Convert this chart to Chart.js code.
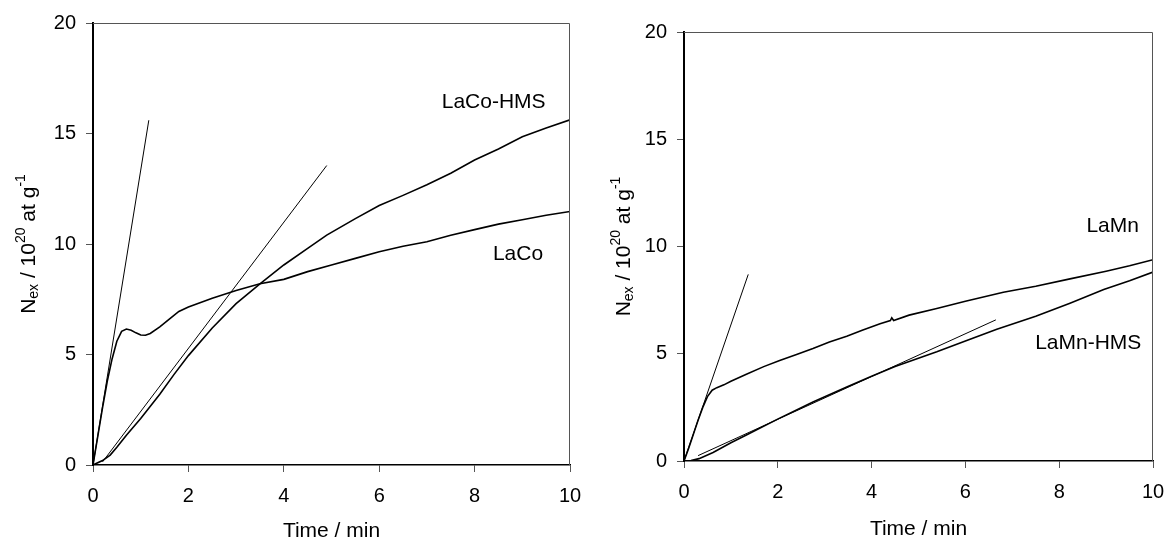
<!DOCTYPE html>
<html>
<head>
<meta charset="utf-8">
<title>N_ex vs Time</title>
<script src="https://cdn.jsdelivr.net/npm/chart.js@4.4.0/dist/chart.umd.min.js"></script>
<style>
  html, body { margin: 0; padding: 0; background: #fff; }
  #wrap { position: relative; width: 1168px; height: 545px; }
  canvas { position: absolute; top: 0; }
  #graficoCo { left: 0; }
  #graficoMn { left: 600px; }
</style>
</head>
<body>
<div id="wrap">
  <canvas id="graficoCo" width="600" height="545"></canvas>
  <canvas id="graficoMn" width="568" height="545"></canvas>
</div>
<script>
// ===================== DADOS =====================
// Time / min  ->  N_ex / 10^20 at g^-1

// LaCo (with bump)
const laCoT = [0, 0.1, 0.2, 0.3, 0.4, 0.5, 0.6, 0.7, 0.8, 0.9, 1.0, 1.1, 1.2, 1.4, 1.6, 1.8, 2.0, 2.5, 3.0, 3.5, 4.0, 4.5, 5.0, 5.5, 6.0, 6.5, 7.0, 7.5, 8.0, 8.5, 9.0, 9.5, 10];
const laCoN = [0, 1.3, 2.6, 3.8, 4.8, 5.6, 6.05, 6.15, 6.1, 5.98, 5.88, 5.87, 5.95, 6.25, 6.6, 6.95, 7.15, 7.55, 7.9, 8.2, 8.4, 8.75, 9.05, 9.35, 9.65, 9.9, 10.1, 10.4, 10.65, 10.9, 11.1, 11.3, 11.47];

// LaCo-HMS
const laCoHmsT = [0, 0.2, 0.36, 0.5, 0.7, 1.0, 1.4, 1.7, 2.0, 2.5, 3.0, 3.5, 4.0, 4.5, 4.9, 5.5, 6.0, 6.5, 7.0, 7.5, 8.0, 8.5, 9.0, 9.5, 10];
const laCoHmsN = [0, 0.2, 0.45, 0.8, 1.35, 2.1, 3.2, 4.1, 4.95, 6.2, 7.3, 8.2, 9.05, 9.8, 10.4, 11.15, 11.74, 12.2, 12.68, 13.2, 13.8, 14.3, 14.85, 15.25, 15.62];

// initial slope lines (left)
const laCoTanT = [0, 1.17];
const laCoTanN = [0, 15.6];
const laCoHmsTanT = [0.2, 4.9];
const laCoHmsTanN = [0.14, 13.55];

// LaMn
const laMnT = [0, 0.1, 0.2, 0.3, 0.4, 0.5, 0.6, 0.7, 0.85, 1.0, 1.33, 1.7, 2.04, 2.4, 2.75, 3.1, 3.47, 3.8, 4.18, 4.4, 4.43, 4.47, 4.8, 5.39, 6.0, 6.81, 7.5, 8.23, 9.0, 9.5, 10];
const laMnN = [0, 0.6, 1.25, 1.9, 2.5, 3.0, 3.3, 3.42, 3.55, 3.72, 4.04, 4.4, 4.69, 4.97, 5.25, 5.55, 5.82, 6.1, 6.4, 6.55, 6.68, 6.55, 6.8, 7.11, 7.45, 7.87, 8.15, 8.49, 8.85, 9.1, 9.38];

// LaMn-HMS
const laMnHmsT = [0, 0.15, 0.32, 0.62, 1.0, 1.33, 2.04, 2.75, 3.47, 4.0, 4.5, 5.39, 6.0, 6.67, 7.5, 8.23, 8.95, 9.5, 10];
const laMnHmsN = [0, 0.02, 0.11, 0.4, 0.85, 1.21, 2.0, 2.75, 3.45, 3.95, 4.4, 5.09, 5.6, 6.14, 6.75, 7.36, 8.0, 8.4, 8.81];

// initial slope lines (right)
const laMnTanT = [0, 1.37];
const laMnTanN = [0, 8.7];
const laMnHmsTanT = [0.3, 6.65];
const laMnHmsTanN = [0.25, 6.58];

// axis ticks
const tempoTicks = [0, 2, 4, 6, 8, 10];
const nexTicks = [0, 5, 10, 15, 20];

// ===================== UTILITÁRIOS =====================
const FONTE = '"Liberation Sans", Arial, Helvetica, sans-serif';

function pontos(ts, ns) {
    return ts.map((t, i) => ({ x: t, y: ns[i] }));
}

function serie(label, ts, ns, largura) {
    return {
        label,
        data: pontos(ts, ns),
        showLine: true,
        borderColor: '#000',
        backgroundColor: '#000',
        borderWidth: largura,
        pointRadius: 0,
        fill: false,
        tension: 0
    };
}

// y-axis title with sub/superscripts
function tituloY(ctx, xBase, yCentro) {
    const partes = [
        { t: 'N', s: 21, d: 0 },
        { t: 'ex', s: 14, d: 3 },
        { t: ' / 10', s: 21, d: 0 },
        { t: '20', s: 14, d: -10 },
        { t: ' at g', s: 21, d: 0 },
        { t: '-1', s: 14, d: -10 }
    ];
    let total = 0;
    partes.forEach(p => {
        ctx.font = p.s + 'px ' + FONTE;
        p.w = ctx.measureText(p.t).width;
        total += p.w;
    });
    ctx.save();
    ctx.translate(xBase, yCentro);
    ctx.rotate(-Math.PI / 2);
    ctx.fillStyle = '#000';
    ctx.textAlign = 'left';
    ctx.textBaseline = 'alphabetic';
    let x = -total / 2;
    partes.forEach(p => {
        ctx.font = p.s + 'px ' + FONTE;
        ctx.fillText(p.t, x, p.d);
        x += p.w;
    });
    ctx.restore();
}

// frame, titles and curve labels
function moldura(cfg) {
    return {
        id: 'moldura',
        afterDraw(chart) {
            const { ctx, chartArea: a, scales } = chart;
            ctx.save();
            ctx.strokeStyle = '#555';
            ctx.lineWidth = 1;
            ctx.beginPath();
            ctx.moveTo(a.left, a.top + 0.5);
            ctx.lineTo(a.right - 0.5, a.top + 0.5);
            ctx.lineTo(a.right - 0.5, a.bottom);
            ctx.stroke();

            ctx.fillStyle = '#000';
            ctx.font = '21px ' + FONTE;
            ctx.textAlign = 'center';
            ctx.textBaseline = 'middle';
            ctx.fillText('Time / min', (a.left + a.right) / 2, a.bottom + cfg.xTitulo);

            cfg.rotulos.forEach(r => {
                ctx.fillText(r.texto, scales.x.getPixelForValue(r.x), scales.y.getPixelForValue(r.y));
            });
            ctx.restore();

            tituloY(ctx, a.left - cfg.yTitulo, (a.top + a.bottom) / 2);
        }
    };
}

// ===================== GRÁFICOS =====================
function criarGrafico(id, datasets, cfg) {
    return new Chart(document.getElementById(id), {
        type: 'scatter',
        data: { datasets },
        options: {
            responsive: false,
            animation: false,
            events: [],
            layout: { padding: { left: 0, top: cfg.topo, right: cfg.direita, bottom: 0 } },
            plugins: { legend: { display: false }, tooltip: { enabled: false } },
            scales: {
                x: {
                    type: 'linear',
                    min: 0, max: 10,
                    afterBuildTicks: s => { s.ticks = tempoTicks.map(v => ({ value: v })); },
                    afterFit: s => { s.height = cfg.altX; s.paddingLeft = 0; s.paddingRight = 0; },
                    ticks: { color: '#000', font: { family: FONTE, size: 20 }, padding: 12, maxRotation: 0 },
                    grid: { drawOnChartArea: false, drawTicks: true, tickLength: 7, color: '#555', lineWidth: 1 },
                    border: { color: '#000', width: 1.5 }
                },
                y: {
                    type: 'linear',
                    min: 0, max: 20,
                    afterBuildTicks: s => { s.ticks = nexTicks.map(v => ({ value: v })); },
                    afterFit: s => { s.width = cfg.largY; s.paddingTop = 0; s.paddingBottom = 0; },
                    ticks: { color: '#000', font: { family: FONTE, size: 20 }, padding: 10 },
                    grid: { drawOnChartArea: false, drawTicks: true, tickLength: 7, color: '#555', lineWidth: 1 },
                    border: { color: '#000', width: 2 }
                }
            }
        },
        plugins: [moldura(cfg)]
    });
}

// ===================== INICIALIZAÇÃO =====================
criarGrafico('graficoCo', [
    serie('LaCo', laCoT, laCoN, 1.6),
    serie('LaCo-HMS', laCoHmsT, laCoHmsN, 1.6),
    serie('LaCo tan', laCoTanT, laCoTanN, 1),
    serie('LaCo-HMS tan', laCoHmsTanT, laCoHmsTanN, 1)
], {
    topo: 23, direita: 30, largY: 93, altX: 80, xTitulo: 66, yTitulo: 58,
    rotulos: [
        { texto: 'LaCo-HMS', x: 8.4, y: 16.43 },
        { texto: 'LaCo', x: 8.91, y: 9.55 }
    ]
});

criarGrafico('graficoMn', [
    serie('LaMn', laMnT, laMnN, 1.6),
    serie('LaMn-HMS', laMnHmsT, laMnHmsN, 1.6),
    serie('LaMn tan', laMnTanT, laMnTanN, 1),
    serie('LaMn-HMS tan', laMnHmsTanT, laMnHmsTanN, 1)
], {
    topo: 32, direita: 15, largY: 84, altX: 84, xTitulo: 68, yTitulo: 54,
    rotulos: [
        { texto: 'LaMn', x: 9.14, y: 10.95 },
        { texto: 'LaMn-HMS', x: 8.62, y: 5.5 }
    ]
});
</script>
</body>
</html>
